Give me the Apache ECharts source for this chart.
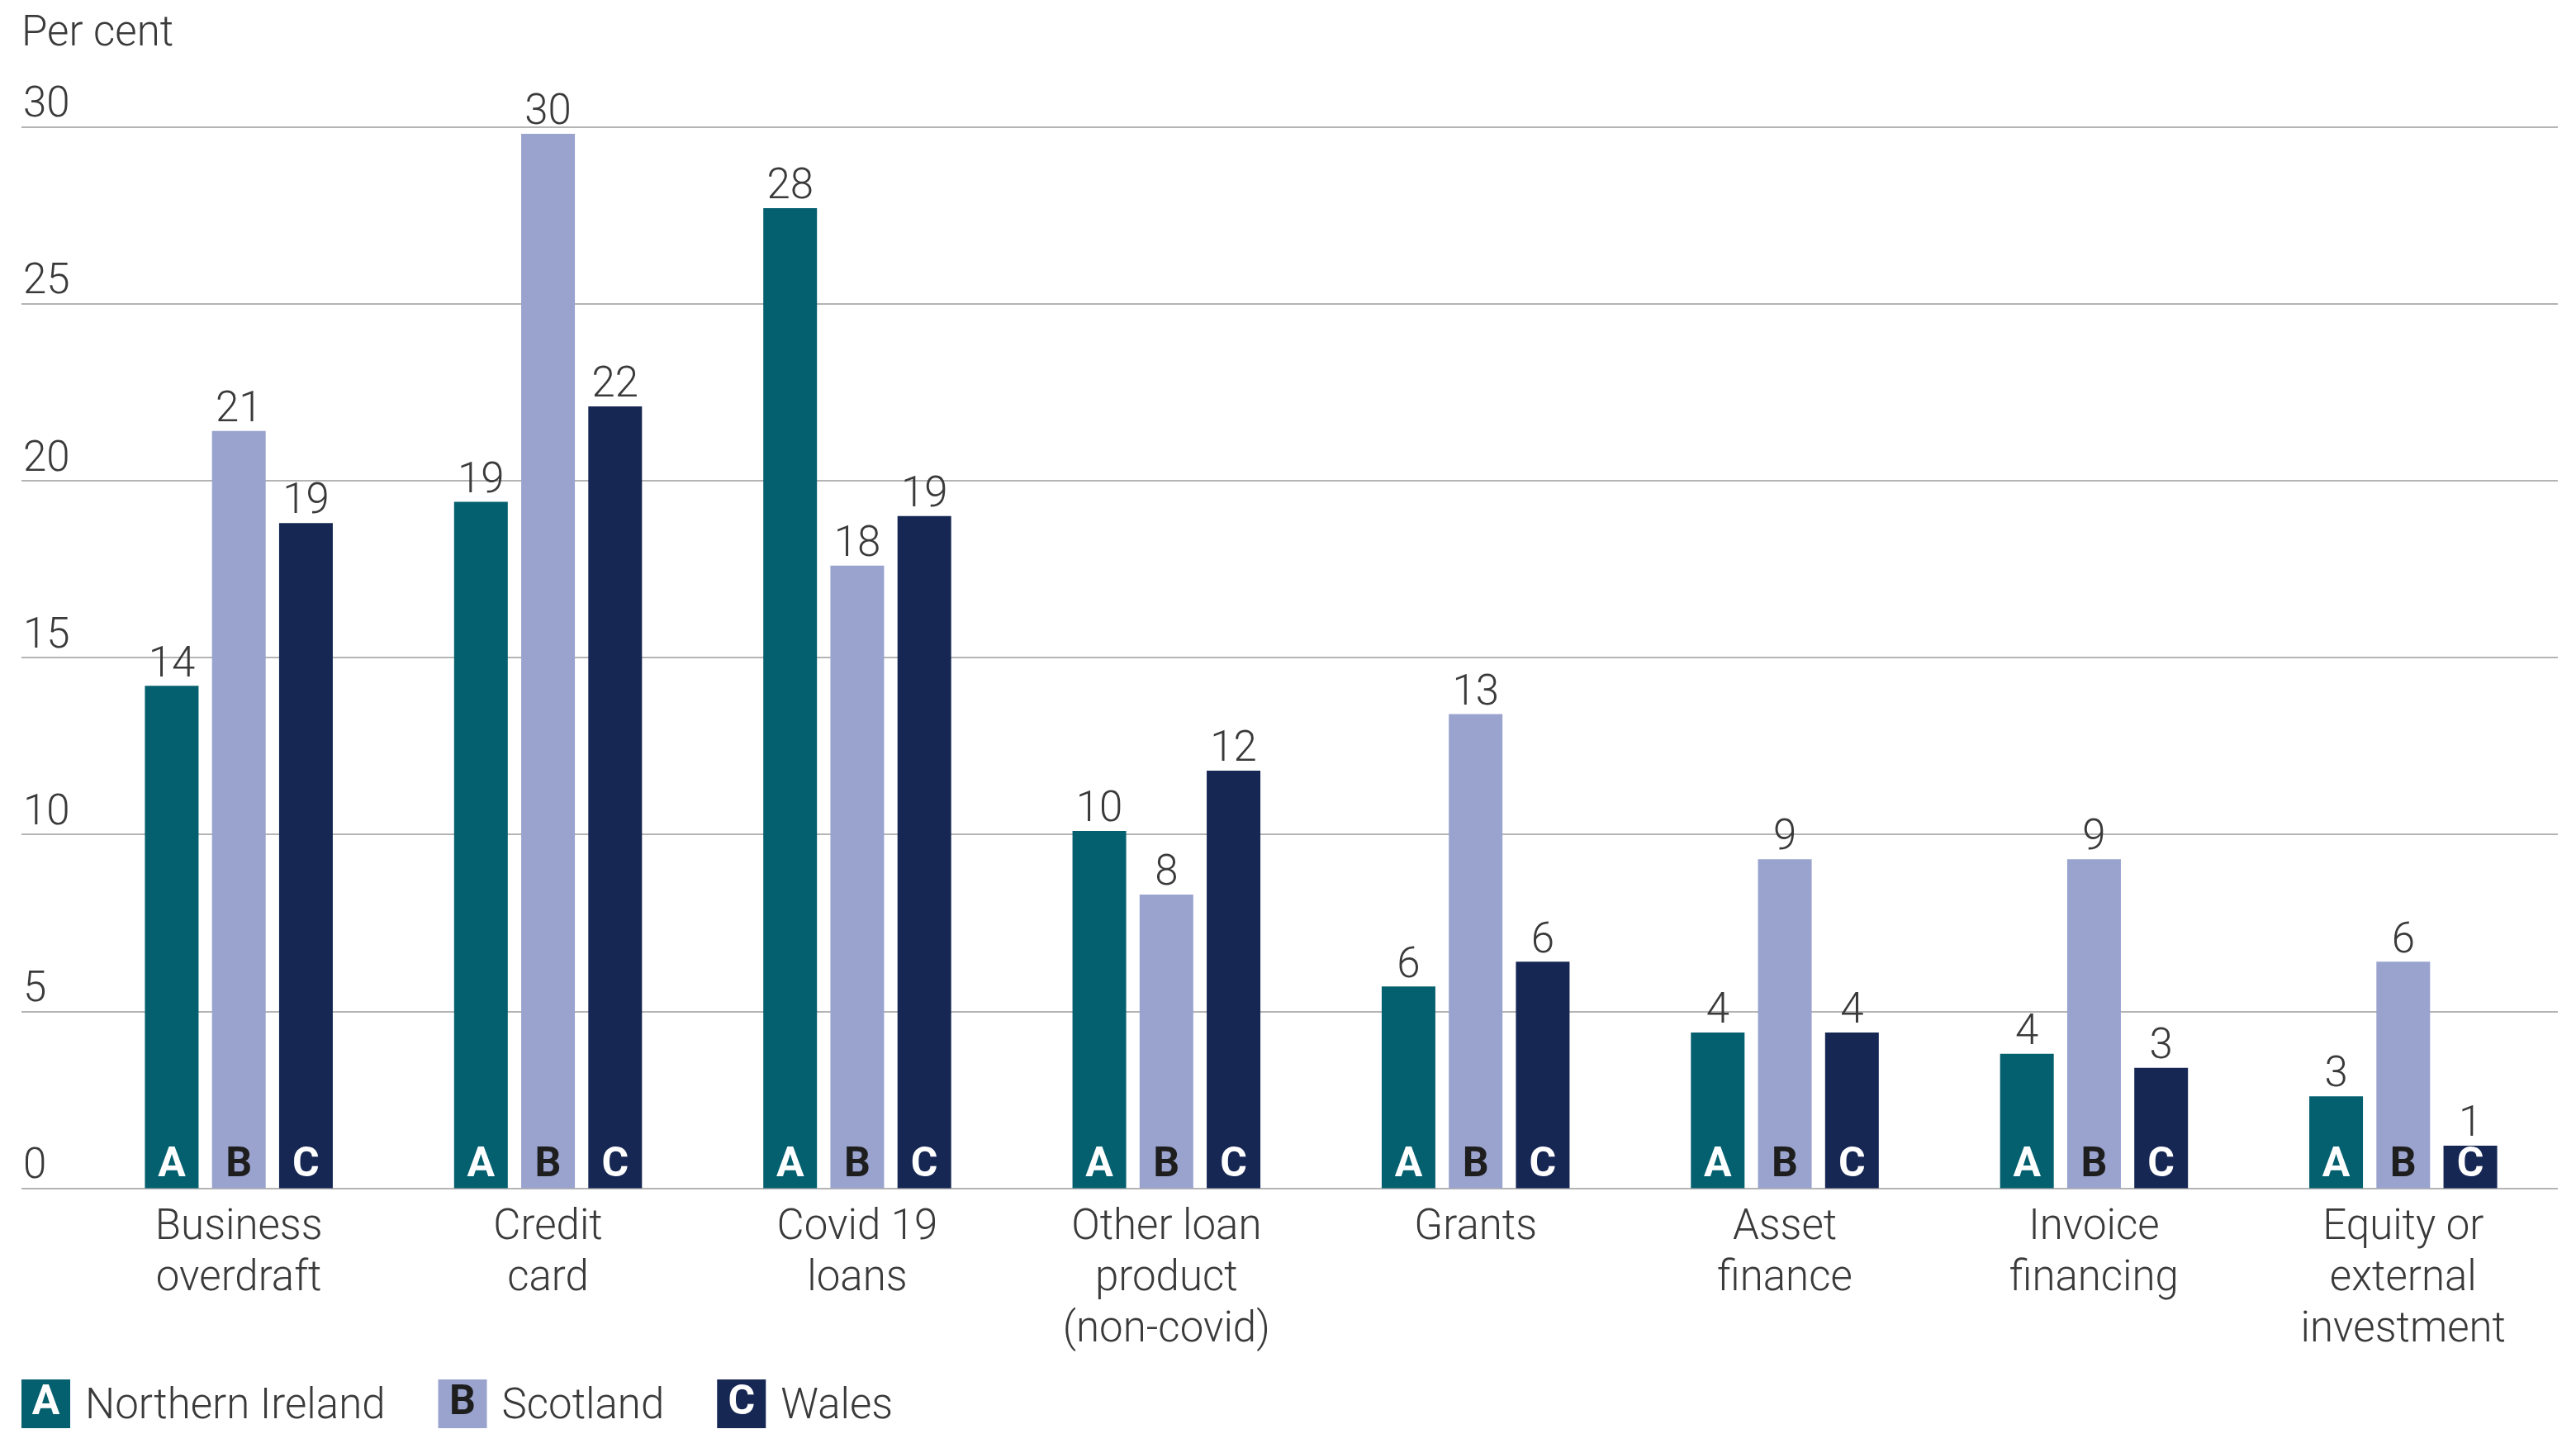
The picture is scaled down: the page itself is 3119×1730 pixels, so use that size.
<!DOCTYPE html>
<html>
<head>
<meta charset="utf-8">
<title>Finance products used, by nation</title>
<script src="https://cdn.jsdelivr.net/npm/echarts@6/dist/echarts.min.js"></script>
<style>
  html, body { margin: 0; padding: 0; background: #ffffff; }
  #chart { width: 3119px; height: 1730px; }
</style>
</head>
<body>
<div id="chart"></div>
<script>
// Product categories along the x axis
const categories = [
  'Business\noverdraft',
  'Credit\ncard',
  'Covid 19\nloans',
  'Other loan\nproduct\n(non-covid)',
  'Grants',
  'Asset\nfinance',
  'Invoice\nfinancing',
  'Equity or\nexternal\ninvestment'
];

// Share of firms using each product, per cent
const northernIreland = [14.2, 19.4, 27.7, 10.1, 5.7, 4.4, 3.8, 2.6];
const scotland        = [21.4, 29.8, 17.6, 8.3, 13.4, 9.3, 9.3, 6.4];
const wales           = [18.8, 22.1, 19.0, 11.8, 6.4, 4.4, 3.4, 1.2];

// Value axis ticks
const yTicks = [0, 5, 10, 15, 20, 25, 30];

const regions = [
  { name: 'Northern Ireland', letter: 'A', values: northernIreland, color: '#04606f', ink: '#ffffff' },
  { name: 'Scotland',         letter: 'B', values: scotland,        color: '#99a3ce', ink: '#1e1e1e' },
  { name: 'Wales',            letter: 'C', values: wales,           color: '#172754', ink: '#ffffff' }
];

const FONT = 'Roboto';
const TEXT = '#3a3a3a';
const GRID_LINE = '#b4b4b4';
const TEXT_SIZE = 51;

const yMin = yTicks[0];
const yMax = yTicks[yTicks.length - 1];
const yStep = yTicks[1] - yTicks[0];

const chart = echarts.init(document.getElementById('chart'), null, { renderer: 'canvas' });

const legendRich = {
  t: { fontFamily: FONT, fontWeight: 300, fontSize: TEXT_SIZE, color: TEXT, padding: [9, 0, 0, 18] }
};
regions.forEach(r => {
  legendRich[r.letter] = {
    backgroundColor: r.color, color: r.ink, width: 59, height: 59, lineHeight: 59,
    align: 'center', fontFamily: FONT, fontWeight: 'bold', fontSize: 50
  };
});

const series = regions.map(r => ({
  name: r.name,
  type: 'bar',
  xAxisIndex: 1,
  yAxisIndex: 1,
  data: r.values,
  barWidth: 65,
  barGap: '25%',
  itemStyle: { color: r.color },
  label: {
    show: true,
    position: 'top',
    distance: -1,
    fontFamily: FONT,
    fontWeight: 300,
    fontSize: TEXT_SIZE,
    color: TEXT,
    formatter: p => String(Math.round(p.value))
  },
  // region letter sitting at the foot of each bar
  markPoint: {
    silent: true,
    symbol: 'rect',
    symbolSize: 0.01,
    itemStyle: { color: 'rgba(0,0,0,0)' },
    label: {
      show: true,
      position: 'top',
      distance: 2,
      formatter: r.letter,
      fontFamily: FONT,
      fontWeight: 'bold',
      fontSize: 50,
      color: r.ink
    },
    data: categories.map((c, i) => ({ coord: [i, 0] }))
  }
}));

const option = {
  backgroundColor: '#ffffff',
  animation: false,
  title: {
    text: 'Per cent',
    left: 26,
    top: 17,
    padding: 0,
    textStyle: { fontFamily: FONT, fontWeight: 300, fontSize: 51, color: TEXT }
  },
  legend: {
    left: 21,
    top: 1670,
    padding: 0,
    itemWidth: 0,
    itemHeight: 0,
    itemGap: 59,
    selectedMode: false,
    icon: 'rect',
    data: regions.map(r => r.name),
    formatter: name => {
      const r = regions.find(x => x.name === name);
      return '{' + r.letter + '|' + r.letter + '}{t|' + name + '}';
    },
    textStyle: { rich: legendRich }
  },
  grid: [
    // full-width grid carrying the horizontal rules and tick labels
    { left: 26, right: 22, top: 153.5, bottom: 291.5 },
    // grid holding the bars
    { left: 102, right: 22, top: 153.5, bottom: 291.5 }
  ],
  xAxis: [
    { gridIndex: 0, type: 'value', min: 0, max: 1, show: false },
    {
      gridIndex: 1,
      type: 'category',
      data: categories,
      axisLine: { show: false },
      axisTick: { show: false },
      axisLabel: {
        interval: 0,
        margin: 18,
        fontFamily: FONT,
        fontWeight: 300,
        fontSize: TEXT_SIZE,
        lineHeight: 62,
        color: TEXT
      }
    }
  ],
  yAxis: [
    {
      gridIndex: 0,
      type: 'value',
      min: yMin,
      max: yMax,
      interval: yStep,
      axisLine: { show: false },
      axisTick: { show: false },
      splitLine: { lineStyle: { color: GRID_LINE, width: 2 } },
      axisLabel: {
        inside: true,
        margin: 2,
        align: 'left',
        verticalAlign: 'bottom',
        lineHeight: 50,
        fontFamily: FONT,
        fontWeight: 300,
        fontSize: TEXT_SIZE,
        color: TEXT
      }
    },
    { gridIndex: 1, type: 'value', min: yMin, max: yMax, interval: yStep, show: false }
  ],
  series: series
};

chart.setOption(option);
</script>
</body>
</html>
